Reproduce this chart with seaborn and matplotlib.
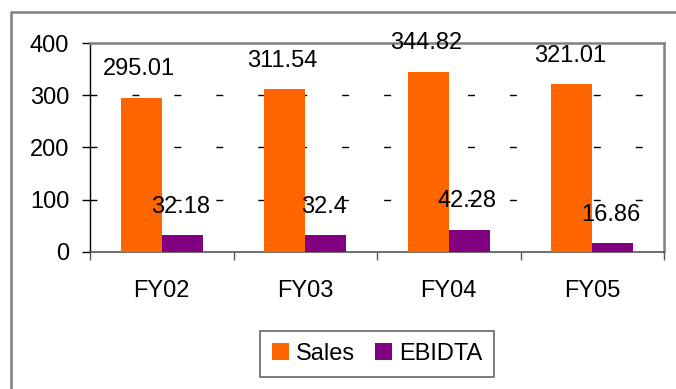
import matplotlib
matplotlib.use("Agg")
import matplotlib.pyplot as plt
from matplotlib.patches import Rectangle
from matplotlib.ticker import FixedLocator, NullFormatter
import seaborn as sns
import pandas as pd

years = ["FY02", "FY03", "FY04", "FY05"]
sales = [295.01, 311.54, 344.82, 321.01]
ebidta = [32.18, 32.4, 42.28, 16.86]
series_names = ["Sales", "EBIDTA"]
series_colors = ["#FF6600", "#800080"]
y_ticks = [0, 100, 200, 300, 400]

df = pd.DataFrame({
    "year": years * 2,
    "value": sales + ebidta,
    "series": [series_names[0]] * len(years) + [series_names[1]] * len(years),
})

sns.set_theme(style="white")
plt.rcParams["font.family"] = ["Liberation Sans", "DejaVu Sans"]
FS = 17

W, H, DPI = 676, 389, 100
fig = plt.figure(figsize=(W / DPI, H / DPI), dpi=DPI, facecolor="white")
ax = fig.add_axes([90 / W, 1 - 252 / H, (664 - 90) / W, (252 - 43) / H])

sns.barplot(data=df, x="year", y="value", hue="series", order=years,
            hue_order=series_names, palette=series_colors, width=0.571,
            gap=0, saturation=1, ax=ax, legend=True, edgecolor="none",
            linewidth=0, zorder=3)

ax.set_xlim(-0.5, len(years) - 0.5)
ax.set_ylim(0, 400)
ax.set_yticks(y_ticks)
ax.set_yticklabels([str(t) for t in y_ticks], fontsize=FS, color="black")
ax.set_xlabel("")
ax.set_ylabel("")

# category boundaries get the tick marks, labels sit in between
ax.xaxis.set_major_locator(FixedLocator([i - 0.5 for i in range(len(years) + 1)]))
ax.xaxis.set_major_formatter(NullFormatter())
ax.xaxis.set_minor_locator(FixedLocator(list(range(len(years)))))
ax.set_xticklabels(years, minor=True, fontsize=FS, color="black")
ax.tick_params(axis="x", which="major", direction="out", length=6, width=1,
               color="#555555", bottom=True)
ax.tick_params(axis="x", which="minor", length=0, pad=20, bottom=True)
ax.tick_params(axis="y", direction="out", length=6, width=1, color="black",
               pad=9, left=True)

# horizontal gridlines
for t in y_ticks[1:-1]:
    ax.axhline(t, color="black", lw=1, zorder=1,
               dashes=(5.0, 25.2), dash_capstyle="butt")

for side in ["top", "right"]:
    ax.spines[side].set_color("#808080")
    ax.spines[side].set_linewidth(1.8)
ax.spines["left"].set_color("black")
ax.spines["left"].set_linewidth(1)
ax.spines["bottom"].set_color("#555555")
ax.spines["bottom"].set_linewidth(1.2)

# value labels above each bar
bar_w = 0.571 / 2
for i, (s, e) in enumerate(zip(sales, ebidta)):
    for off, v in ((-bar_w / 2, s), (bar_w / 2, e)):
        ax.annotate(f"{v:g}", xy=(i + off, v), xytext=(-1.5, 20.5),
                    textcoords="offset points", ha="center", va="center",
                    fontsize=FS, color="black", zorder=5)

leg = ax.legend(loc="center", bbox_to_anchor=(377 / W, 1 - 354 / H),
                bbox_transform=fig.transFigure, ncol=2, fontsize=FS,
                frameon=True, fancybox=False, shadow=False,
                handlelength=0.72, handleheight=0.72, handletextpad=0.3,
                columnspacing=0.85, borderpad=0.5, borderaxespad=0)
leg.get_frame().set_edgecolor("#404040")
leg.get_frame().set_linewidth(1.2)
for txt in leg.get_texts():
    txt.set_color("black")

# chart-area border
fig.add_artist(Rectangle((11 / W, -0.1), 1.0, 1 - 12 / H + 0.1,
                         transform=fig.transFigure, fill=False,
                         edgecolor="#808080", linewidth=1.8))

fig.savefig("out.png", dpi=DPI, facecolor="white")
